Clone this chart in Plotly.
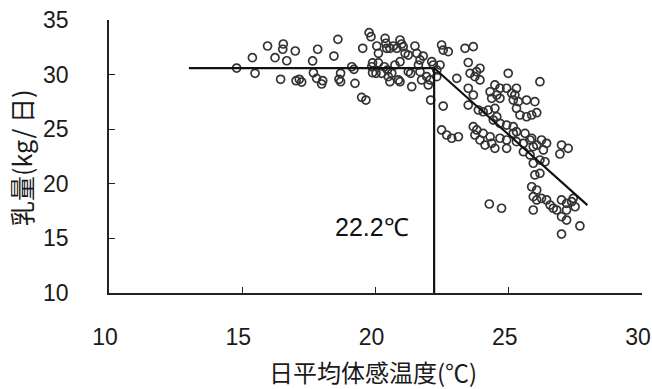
import plotly.graph_objects as go

# Observed points: daily mean effective temperature (°C) vs milk yield (kg/day)
temp = [14.79, 15.38, 15.48, 15.95, 16.54, 16.52, 16.23, 16.67, 16.99, 16.44,
        17.02, 17.14, 17.23, 17.83, 17.64, 17.67, 17.79, 18.02, 17.98, 18.59,
        18.44, 18.69, 18.63, 18.69, 19.23, 19.48, 19.64, 19.11, 19.19, 19.52,
        19.76, 19.83, 19.89, 19.86, 20.11, 20.05, 20.11, 19.89, 20.02, 20.23,
        20.36, 20.39, 20.54, 20.42, 20.33, 20.45, 20.48, 20.61, 20.54, 20.67,
        20.80, 20.92, 20.98, 21.04, 21.11, 21.23, 20.92, 20.73, 20.86, 20.92,
        21.23, 21.32, 21.36, 21.48, 21.55, 21.67, 21.61, 21.67, 21.73, 21.79,
        22.05, 21.98, 22.11, 22.17, 22.07, 22.30, 21.92,
        22.48, 22.54, 22.73, 23.36, 23.67, 22.42, 22.30, 23.48, 23.55, 23.79,
        23.92, 23.73, 23.92, 23.05, 24.98, 26.17, 23.48, 23.67, 22.54, 23.48,
        24.30, 24.48, 24.67, 24.55, 24.36, 24.67, 24.92, 25.11, 25.29, 25.23,
        25.17, 25.36, 25.67, 25.98, 23.86, 24.04, 24.23, 24.48, 24.55, 24.42,
        25.29, 25.42, 25.67, 25.86, 26.05, 24.67, 24.92, 25.17, 22.48, 22.67,
        22.86, 23.11, 23.67, 23.80, 24.04, 24.30, 23.92, 24.11, 24.36, 24.67,
        24.92, 25.29, 25.55, 25.80, 26.05, 26.23, 26.42, 26.98, 27.23, 23.73,
        24.48, 24.92, 25.17, 25.29, 25.61, 25.86, 25.92, 26.30, 25.55, 25.80,
        26.92, 25.92, 26.17, 26.36, 25.98, 26.17, 25.86, 26.05, 25.92, 26.05,
        26.23, 26.42, 26.55, 26.67, 26.80, 26.98, 27.17, 27.36, 27.42, 27.49,
        27.17, 26.98, 27.17, 27.67, 26.98, 25.92, 24.27, 24.73]
milk = [30.60, 31.55, 30.12, 32.62, 32.80, 32.32, 31.55, 31.27, 32.16, 29.57,
        29.44, 29.57, 29.32, 32.32, 31.25, 30.17, 29.66, 29.44, 29.14, 33.23,
        31.70, 30.12, 29.57, 29.35, 29.20, 27.92, 27.67, 30.72, 30.48, 32.41,
        33.84, 33.47, 31.08, 30.72, 31.08, 32.62, 31.95, 30.17, 30.12, 30.12,
        33.32, 32.87, 32.41, 32.41, 30.72, 30.42, 29.81, 30.12, 29.35, 32.62,
        32.41, 33.17, 32.80, 32.56, 31.95, 31.79, 31.18, 30.88, 29.51, 29.35,
        30.27, 30.12, 28.89, 32.62, 31.95, 31.34, 30.88, 30.27, 29.51, 31.70,
        29.51, 29.05, 31.18, 30.88, 27.67, 30.42, 29.81,
        32.71, 32.25, 32.10, 32.41, 32.56, 30.88, 29.81, 31.11, 30.12, 30.27,
        30.58, 29.81, 29.51, 29.66, 30.12, 29.35, 28.75, 28.13, 27.12, 27.21,
        28.43, 29.05, 28.75, 28.13, 27.83, 27.83, 28.75, 28.29, 28.75, 28.13,
        27.67, 27.52, 27.67, 27.52, 26.76, 26.60, 26.76, 26.91, 26.14, 25.84,
        26.91, 26.30, 26.14, 26.30, 26.51, 25.54, 25.38, 25.23, 24.93, 24.47,
        24.17, 24.31, 25.23, 24.93, 24.62, 24.31, 24.01, 23.55, 23.71, 24.17,
        24.01, 23.86, 23.71, 24.01, 23.55, 24.01, 23.71, 23.55, 23.25, 24.47,
        23.25, 23.25, 24.63, 24.77, 24.62, 24.17, 23.40, 23.10, 22.94, 22.64,
        22.73, 21.88, 22.18, 22.02, 20.81, 20.96, 19.73, 19.43, 18.82, 18.52,
        18.67, 18.52, 18.06, 17.76, 17.60, 18.52, 18.21, 18.36, 18.67, 17.90,
        17.60, 16.99, 16.68, 16.14, 15.40, 17.60, 18.15, 17.76]

# Broken-line regression
fit_x = [13.0, 22.2, 27.95]
fit_y = [30.6, 30.6, 18.05]
break_x = [22.2, 22.2]
break_y = [10, 30.6]

x_ticks = [10, 15, 20, 25, 30]
y_ticks = [10, 15, 20, 25, 30, 35]

fig = go.Figure()
fig.add_trace(go.Scatter(
    x=temp, y=milk, mode="markers",
    marker=dict(symbol="circle-open", size=8, color="#333333", line=dict(width=1.7)),
    showlegend=False, cliponaxis=False))
fig.add_trace(go.Scatter(x=fit_x, y=fit_y, mode="lines",
                         line=dict(color="#111111", width=2.2), showlegend=False))
fig.add_trace(go.Scatter(x=break_x, y=break_y, mode="lines",
                         line=dict(color="#111111", width=2.2), showlegend=False))

tick_font = dict(family="Liberation Sans, Arial", size=23, color="#1a1a1a")
fig.update_xaxes(range=[10, 30], tickvals=x_ticks, showgrid=False, zeroline=False,
                 showline=True, linecolor="#222222", linewidth=1.6,
                 ticks="inside", ticklen=6, tickwidth=1.4, tickcolor="#222222",
                 tickfont=tick_font, ticklabelstandoff=23, ticklabelshift=-4,
                 ticklabeloverflow="allow", automargin=False)
fig.update_yaxes(range=[10, 35], tickvals=y_ticks, showgrid=False, zeroline=False,
                 showline=True, linecolor="#222222", linewidth=1.6,
                 ticks="inside", ticklen=6, tickwidth=1.4, tickcolor="#222222",
                 tickfont=tick_font, ticklabelstandoff=34,
                 ticklabeloverflow="allow", automargin=False)

cjk = "Noto Sans CJK JP"
fig.add_annotation(x=19.87, y=16.0, text="22.2℃", showarrow=False,
                   xanchor="center", yanchor="middle",
                   font=dict(family="Liberation Sans, Arial", size=25, color="#111111"))
fig.add_annotation(xref="paper", yref="paper", x=0.495, y=-0.289,
                   xanchor="center", yanchor="middle",
                   text="日平均体感温度(℃)", showarrow=False,
                   font=dict(family=cjk, size=24, color="#1a1a1a"))
fig.add_annotation(xref="paper", yref="paper", x=-0.165, y=0.495,
                   xanchor="center", yanchor="middle",
                   text="乳量(kg/ 日)", textangle=-90, showarrow=False,
                   font=dict(family=cjk, size=25, color="#1a1a1a"))

fig.update_layout(width=652, height=389, margin=dict(l=109, r=10, t=20, b=96),
                  plot_bgcolor="white", paper_bgcolor="white")
# remove the page's default body margin so the figure fills the window exactly
fig.write_html("out.html", config={"displayModeBar": False},
               post_script="document.body.style.margin='0';document.body.style.overflow='hidden';")
